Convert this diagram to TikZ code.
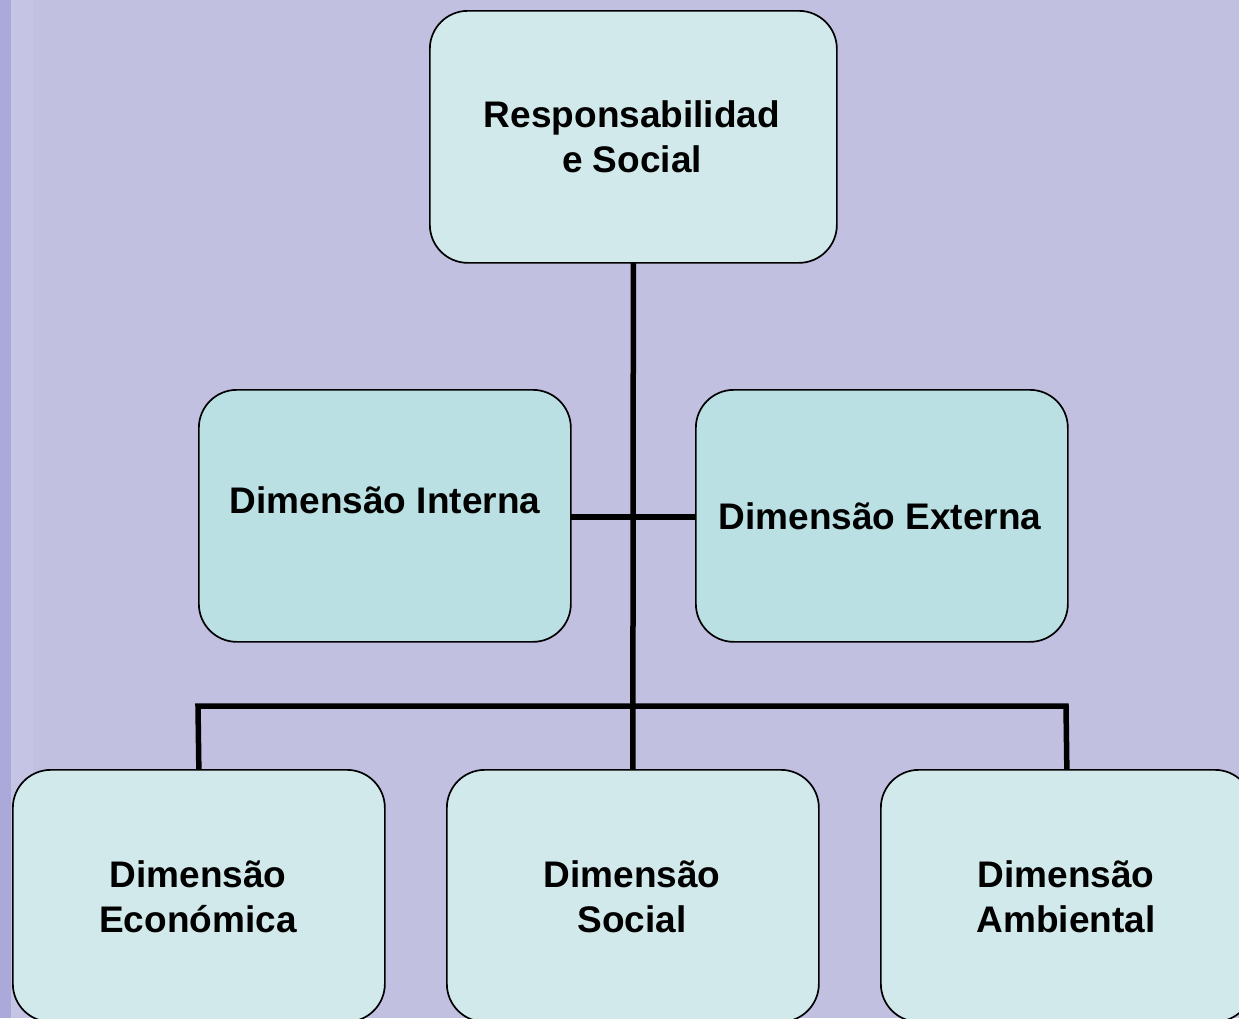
\documentclass[tikz,border=0pt]{standalone}
\usepackage{fontspec}
\setmainfont{Liberation Sans}
\definecolor{bgc}{HTML}{C2C0E0}
\definecolor{stripe}{HTML}{ABA8DA}
\definecolor{stripe2}{HTML}{C6C4E4}
\definecolor{boxa}{HTML}{D1E9EA}
\definecolor{boxb}{HTML}{BAE0E3}
\pgfdeclarelayer{bg}
\pgfdeclarelayer{lines}
\pgfsetlayers{bg,lines,main}
\begin{document}
\begin{tikzpicture}[x=1pt,y=-1pt,
  box/.style={draw=black,line width=1.7pt,rounded corners=38pt,fill=boxa,
    minimum width=372pt,minimum height=252pt,inner sep=0pt,anchor=north west},
  lbl/.style={font=\fontsize{37}{44.5}\selectfont\bfseries,align=center,inner sep=0pt},
  conn/.style={line width=5.5pt,black,line join=miter,line cap=rect}]
\useasboundingbox (0,0) rectangle (1239,1018);
\begin{pgfonlayer}{bg}
\fill[bgc] (0,0) rectangle (1239,1018);
\fill[stripe2] (11,0) rectangle (33,1018);
\fill[stripe] (0,0) rectangle (11,1018);
\end{pgfonlayer}
\node[box,minimum width=407pt] (top) at (429,10) {};
\node[box,fill=boxb] (int) at (198,389) {};
\node[box,fill=boxb] (ext) at (695,389) {};
\node[box] (eco) at (12,769) {};
\node[box] (soc) at (446,769) {};
\node[box] (amb) at (880,769) {};
\coordinate (busL) at (198,706);
\coordinate (busR) at (1066,706);
\begin{pgfonlayer}{lines}
\draw[conn] (top.south) -- (soc.north);
\draw[conn] (int.east) ++(0,1) coordinate (ie) -- (ext.west |- ie);
\draw[conn] (eco.north) -- (busL) -- (busR) -- (amb.north);
\end{pgfonlayer}
\node[lbl] (topT) at (632,137) {Responsabilidad\\e Social};
\node[lbl] (intT) at (385,500) {Dimensão Interna};
\node[lbl] (extT) at (880,516) {Dimensão Externa};
\node[lbl] (ecoT) at (198,897) {Dimensão\\Económica};
\node[lbl] (socT) at (632,897) {Dimensão\\Social};
\node[lbl] (ambT) at (1066,897) {Dimensão\\Ambiental};
\end{tikzpicture}
\end{document}
